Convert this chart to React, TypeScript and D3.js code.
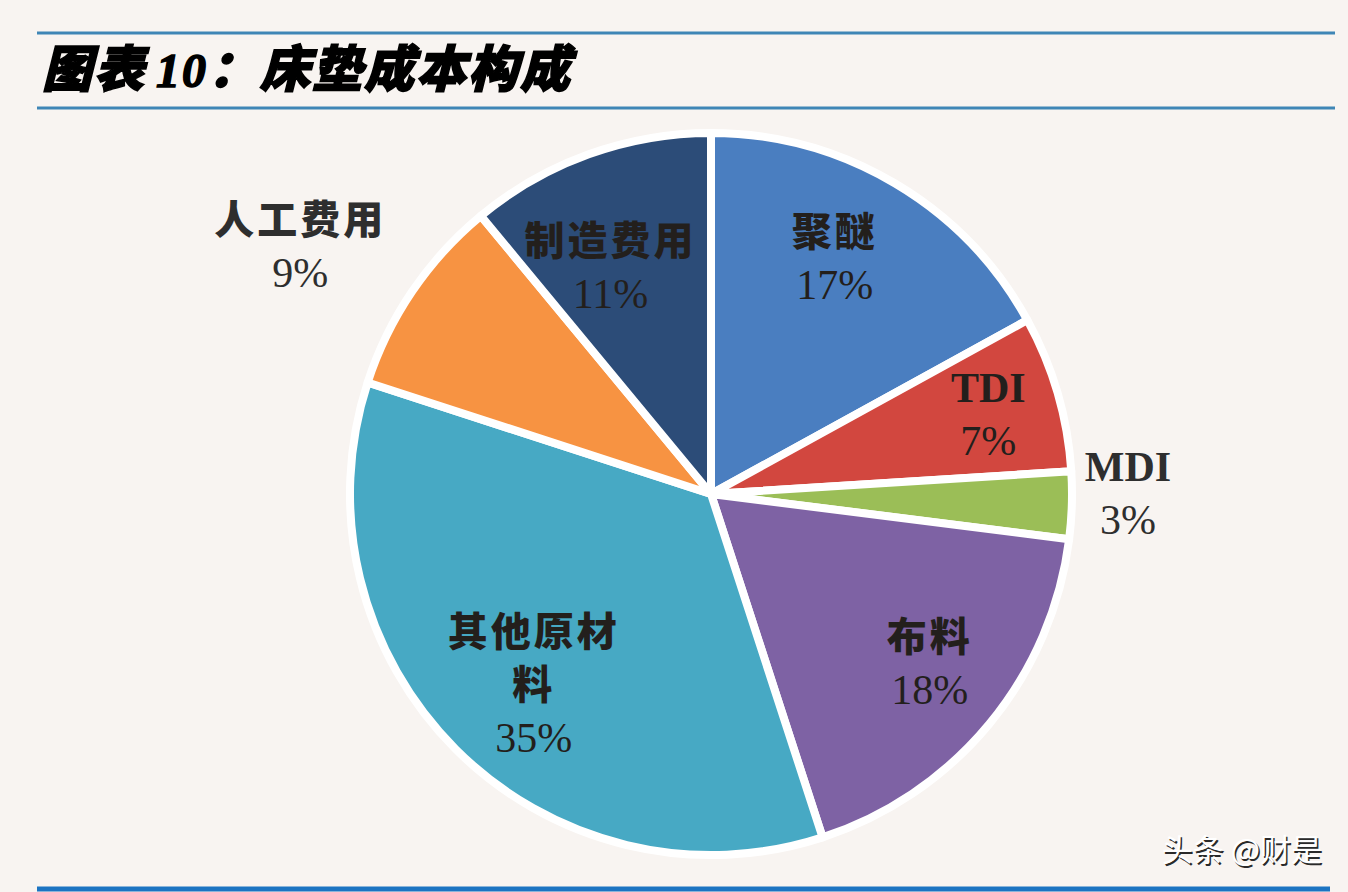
import * as d3 from 'd3';
import { type FC } from 'react';

// Mattress cost structure (share of total cost, %)
const categories = ['聚醚', 'TDI', 'MDI', '布料', '其他原材料', '人工费用', '制造费用'];
const shares = [17, 7, 3, 18, 35, 9, 11];
const sliceColors = ['#4a7ec0', '#d2473f', '#9bbe57', '#7e62a4', '#47a9c4', '#f79342', '#2c4c78'];

const W = 1348;
const H = 892;

const cjk = '"Noto Sans CJK SC", "Noto Sans", sans-serif';
const serif = '"Liberation Serif", "DejaVu Serif", serif';

interface Slice {
  name: string;
  value: number;
  color: string;
}

// label placement: radius as fraction of pie radius, angle nudge (deg) off the slice middle
const labelLayout: Record<string, [number, number]> = {
  聚醚: [0.74, -3],
  TDI: [0.8, 0],
  MDI: [1.155, -2],
  布料: [0.765, -2],
  其他原材料: [0.72, -2],
  人工费用: [1.33, -3],
  制造费用: [0.69, -4],
};

const App: FC = () => {
  const data: Slice[] = categories.map((name, i) => ({
    name,
    value: shares[i],
    color: sliceColors[i],
  }));

  const cx = 711;
  const cy = 494;
  const radius = 361;

  const pie = d3
    .pie<Slice>()
    .sort(null)
    .value((d) => d.value)
    .startAngle(0)
    .endAngle(2 * Math.PI);
  const arcs = pie(data);

  const arc = d3.arc<d3.PieArcDatum<Slice>>().innerRadius(0).outerRadius(radius);

  const lineH = 53;

  return (
    <div style={{ position: 'absolute', left: 0, top: 0 }}>
      <svg width={W} height={H} style={{ display: 'block', background: '#f8f4f1' }}>
        {/* header rules */}
        <line x1={37} x2={1335} y1={33} y2={33} stroke="#3f86b6" strokeWidth={3} />
        <line x1={37} x2={1335} y1={108} y2={108} stroke="#3f86b6" strokeWidth={3} />
        <line x1={37} x2={1330} y1={889} y2={889} stroke="#1c74c2" strokeWidth={5} />

        <text
          x={42}
          y={87}
          fontFamily={cjk}
          fontSize={50}
          fontWeight={900}
          fontStyle="italic"
          letterSpacing={2}
          fill="#000"
          stroke="#000"
          strokeWidth={1.5}
        >
          图表
          <tspan fontFamily={serif} fontSize={48} dx={10}>
            10
          </tspan>
          ：床垫成本构成
        </text>

        <g transform={`translate(${cx},${cy})`}>
          {arcs.map((a) => (
            <path
              key={a.data.name}
              d={arc(a) || ''}
              fill={a.data.color}
              stroke="#ffffff"
              strokeWidth={8}
              strokeLinejoin="round"
            />
          ))}
          {arcs.map((a) => {
            const [rf, nudge] = labelLayout[a.data.name] || [0.75, 0];
            const outside = rf > 1;
            const ang = (a.startAngle + a.endAngle) / 2 + (nudge * Math.PI) / 180;
            const r = radius * rf;
            const lx = r * Math.sin(ang);
            const ly = -r * Math.cos(ang);
            const nameLines =
              a.data.name.length > 4
                ? [a.data.name.slice(0, 4), a.data.name.slice(4)]
                : [a.data.name];
            const lines = [...nameLines, `${a.data.value}%`];
            const n = lines.length;
            return (
              <g key={`l-${a.data.name}`}>
                {lines.map((t, j) => {
                  const isPct = j === n - 1;
                  const isLatin = /^[A-Z]+$/.test(t);
                  return (
                    <text
                      key={j}
                      x={lx}
                      y={ly + 15 + (j - (n - 1) / 2) * lineH}
                      textAnchor="middle"
                      fontFamily={isPct || isLatin ? serif : cjk}
                      fontSize={isPct || isLatin ? 42 : 40}
                      fontWeight={isPct ? 400 : isLatin ? 700 : 900}
                      letterSpacing={isPct || isLatin ? 0 : 3}
                      fill={outside ? '#2e2e2e' : '#231f1c'}
                    >
                      {t}
                    </text>
                  );
                })}
              </g>
            );
          })}
        </g>

        {/* watermark */}
        <text
          x={1322}
          y={861}
          textAnchor="end"
          fontFamily={cjk}
          fontSize={31}
          fill="#2a2a2a"
          transform="translate(1.5,1.5)"
        >
          头条 @财是
        </text>
        <text x={1322} y={861} textAnchor="end" fontFamily={cjk} fontSize={31} fill="#ffffff">
          头条 @财是
        </text>
      </svg>
    </div>
  );
};

export default App;
